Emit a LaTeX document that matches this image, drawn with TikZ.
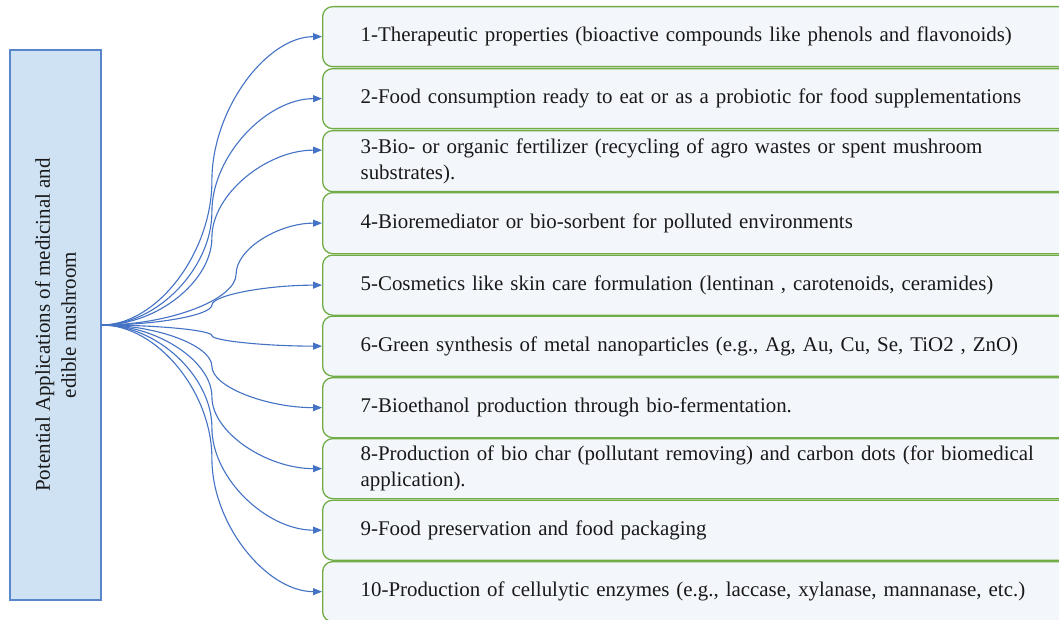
\documentclass[tikz,border=0pt]{standalone}
\usepackage{fontspec}
\setmainfont{Liberation Serif}
\usetikzlibrary{calc,arrows.meta}
\definecolor{connblue}{HTML}{4472C4}
\definecolor{leftfill}{HTML}{CFE2F3}
\definecolor{leftborder}{HTML}{5A86CB}
\definecolor{boxgreen}{HTML}{70AD47}
\definecolor{boxfill}{HTML}{F3F6FB}
\tikzset{
  leftbox/.style={draw=leftborder, line width=1.6pt, fill=leftfill, rotate=90,
    minimum width=550pt, minimum height=91pt, inner sep=0pt, align=center,
    font=\fontsize{21}{26}\selectfont, text=black!90},
  appbox/.style={draw=boxgreen, line width=1.3pt, fill=boxfill, rounded corners=10pt,
    anchor=north west, minimum height=60pt, text width=790pt, align=left,
    inner xsep=0pt, inner ysep=0pt, font=\fontsize{20.9}{26}\selectfont, text=black!90,
    execute at begin node={\hspace*{38pt}}},
  conn/.style={draw=connblue, line width=1.1pt, -{Triangle[length=9pt,width=7pt]}},
  wc/.style={to path={let \p1=(\tikztostart), \p2=(\tikztotarget),
    \n1={\x1+(\x2-\x1)*#1} in
    .. controls ({(\x1+\n1)/2},\y1) and ({\n1},{\y1+(\y2-\y1)/4}) .. ({\n1},{(\y1+\y2)/2})
    .. controls ({\n1},{\y1+3*(\y2-\y1)/4}) and ({(\n1+\x2)/2},\y2) .. (\x2,\y2) \tikztonodes}},
  wc/.default=0.5
}
\begin{document}
\begin{tikzpicture}[x=1pt,y=-1pt]
\clip (0,0) rectangle (1059,620);
\fill[white] (0,0) rectangle (1059,620);
\node[leftbox] (L) at (55.5,325) {Potential Applications of medicinal and\\edible mushroom};
\node[appbox] (b1) at (322,6) {1-Therapeutic properties (bioactive compounds like phenols and flavonoids)};
\node[appbox] (b2) at (322,68) {2-Food consumption ready to eat or as a probiotic for food supplementations};
\node[appbox, minimum height=61pt] (b3) at (322,130) {3-Bio- or organic fertilizer (recycling of agro wastes or spent mushroom\\\hspace*{38pt}substrates).};
\node[appbox, minimum height=61pt] (b4) at (322,192) {4-Bioremediator or bio-sorbent for polluted environments};
\node[appbox] (b5) at (322,254.5) {5-Cosmetics like skin care formulation (lentinan , carotenoids, ceramides)};
\node[appbox] (b6) at (322,315.5) {6-Green synthesis of metal nanoparticles (e.g., Ag, Au, Cu, Se, TiO2 , ZnO)};
\node[appbox] (b7) at (322,377) {7-Bioethanol production through bio-fermentation.};
\node[appbox] (b8) at (322,438) {8-Production of bio char (pollutant removing) and carbon dots (for biomedical\\\hspace*{38pt}application).};
\node[appbox] (b9) at (322,499.5) {9-Food preservation and food packaging};
\node[appbox] (b10) at (322,561) {10-Production of cellulytic enzymes (e.g., laccase, xylanase, mannanase, etc.)};
\draw[conn] (L.south) to[wc] (b1.west);
\draw[conn] (L.south) to[wc] (b2.west);
\draw[conn] (L.south) to[wc] ([yshift=11pt]b3.west);
\draw[conn] (L.south) to[wc=0.61] (b4.west);
\draw[conn] (L.south) to[wc] (b5.west);
\draw[conn] (L.south) to[wc] (b6.west);
\draw[conn] (L.south) to[wc] (b7.west);
\draw[conn] (L.south) to[wc] (b8.west);
\draw[conn] (L.south) to[wc] (b9.west);
\draw[conn] (L.south) to[wc] (b10.west);
\end{tikzpicture}
\end{document}
